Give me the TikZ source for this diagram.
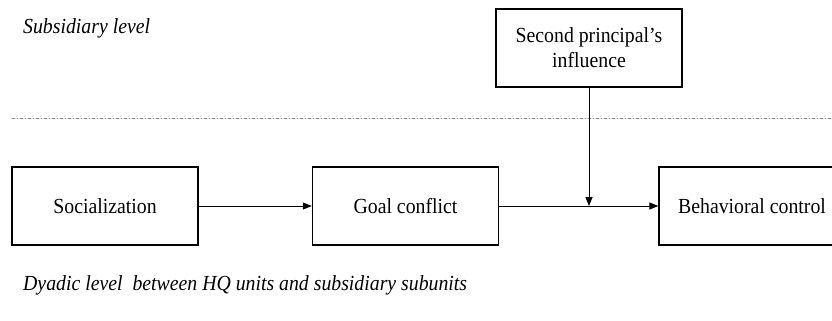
\documentclass[tikz,border=0pt]{standalone}
\usepackage{fontspec}
\setmainfont{Liberation Serif}[FakeStretch=0.92]
\usetikzlibrary{arrows.meta}

\begin{document}
\begin{tikzpicture}[x=1pt,y=1pt,line cap=round]
  % Styles
  \tikzset{
    factor/.style={draw,line width=1.3pt,minimum width=186pt,minimum height=78pt,
      inner sep=0pt,font=\fontsize{21.5}{25}\selectfont,align=center},
    link/.style={line width=0.9pt,-{Triangle[length=9pt,width=7pt]}},
    level/.style={font=\fontsize{21.5}{25}\selectfont\itshape,anchor=west,inner sep=0pt}
  }

  % Colors
  \colorlet{sepclr}{gray!90}

  \useasboundingbox (0,0) rectangle (832,-321);

  % Level labels
  \node[level] (sublvl) at (23,-28) {Subsidiary level};
  \node[level] (dyadlvl) at (23,-285) {Dyadic level\ \ between HQ units and subsidiary subunits};

  % Separator between the levels
  \draw[sepclr,line width=0.8pt,dash pattern=on 3pt off 2pt on 1pt off 2pt] (12,-118) -- (832,-118);

  % Boxes
  \node[factor] (second) at (589,-48) {Second principal's\\influence};
  \node[factor] (social) at (105,-206) {Socialization};
  \node[factor] (goal) at (405.5,-206) {Goal conflict};
  \node[factor] (behav) at (752,-206) {Behavioral control};

  % Arrows
  \coordinate (meet) at (second.south |- goal.east);
  \draw[link] (social) -- (goal);
  \draw[link] (goal) -- (behav);
  \draw[link] (second) -- (meet);
\end{tikzpicture}
\end{document}
